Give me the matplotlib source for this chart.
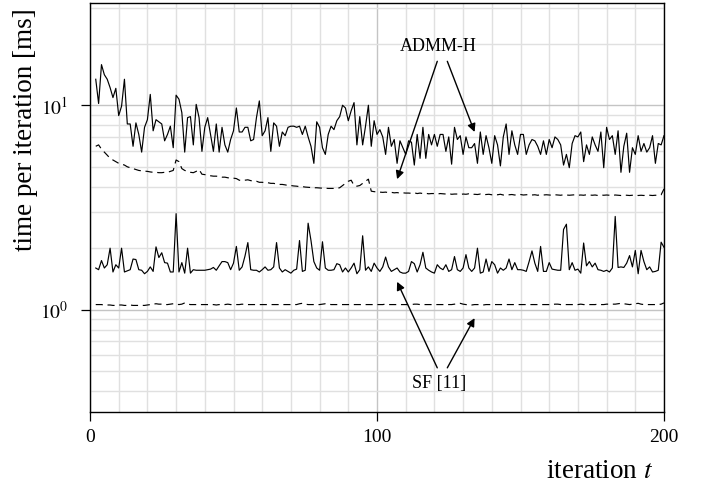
import numpy as np
import matplotlib
matplotlib.use('Agg')
import matplotlib.pyplot as plt

plt.rcParams['font.family'] = ['Liberation Serif', 'DejaVu Serif']
plt.rcParams['mathtext.fontset'] = 'stix'

# iterations 2..200
iterations = list(range(2, 201))

# ADMM-H, solid
admm_solid = [
    13.4, 10.2, 15.8, 14.1, 13.4, 12.2, 10.9, 12.1, 8.9,
    9.9, 13.4, 8.1, 8.1, 6.3, 8.2, 7.2, 5.9, 7.8, 8.5,
    11.3, 7.5, 8.5, 8.3, 8.1, 6.7, 7.2, 7.9, 6.2, 11.2,
    10.7, 9.2, 5.9, 8.7, 8.8, 6.4, 10.1, 8.7, 5.95, 7.8,
    8.7, 7.2, 5.95, 8.1, 5.9, 7.8, 6.4, 5.9, 6.8, 7.5,
    9.7, 7.4, 7.4, 7.8, 7.8, 6.7, 6.8, 8.7, 10.5, 7.1,
    7.5, 8.7, 5.95, 8.2, 7.9, 6.3, 7.4, 7.1, 7.8, 7.9,
    7.9, 7.8, 7.9, 7.2, 7.9, 7.0, 6.3, 5.2, 8.3, 7.8,
    6.2, 5.75, 7.2, 7.9, 7.6, 8.4, 8.8, 10.0, 9.7, 8.4,
    9.4, 10.3, 6.4, 8.8, 6.4, 7.9, 10.0, 6.3, 8.4, 7.2,
    7.6, 7.0, 5.75, 7.8, 6.3, 6.8, 5.2, 6.7, 6.2, 5.75,
    6.7, 6.6, 5.1, 7.2, 5.5, 7.8, 5.5, 7.2, 6.4, 7.2,
    6.3, 7.2, 7.2, 5.95, 7.0, 5.15, 7.8, 6.8, 7.1, 5.75,
    7.0, 6.2, 6.2, 6.5, 5.2, 7.4, 5.75, 7.1, 6.2, 5.2,
    7.1, 6.4, 5.05, 7.0, 8.1, 5.75, 7.5, 6.4, 5.75, 7.2,
    7.2, 5.75, 6.4, 6.8, 6.7, 6.3, 5.75, 6.7, 5.75, 6.8,
    6.2, 7.0, 6.8, 6.4, 5.1, 5.75, 4.95, 6.5, 7.1, 7.0,
    7.4, 5.3, 6.4, 5.75, 7.0, 6.4, 5.95, 7.4, 4.95, 7.8,
    6.8, 7.1, 5.75, 7.5, 4.7, 6.3, 7.3, 4.7, 6.2, 5.75,
    7.1, 5.95, 6.5, 5.9, 6.2, 7.1, 5.2, 6.5, 6.4, 7.1,
]

# ADMM-H, dashed
admm_dashed = [
    6.3, 6.4, 6.1, 5.9, 5.7, 5.5, 5.4, 5.3, 5.2,
    5.15, 5.1, 5.0, 4.95, 4.9, 4.85, 4.8, 4.78, 4.76, 4.75,
    4.72, 4.7, 4.7, 4.68, 4.68, 4.7, 4.7, 4.75, 4.8, 5.4,
    5.3, 4.9, 4.8, 4.75, 4.7, 4.68, 4.75, 4.85, 4.6, 4.58,
    4.55, 4.52, 4.5, 4.5, 4.48, 4.45, 4.45, 4.42, 4.4, 4.4,
    4.38, 4.3, 4.28, 4.3, 4.32, 4.28, 4.25, 4.25, 4.2, 4.2,
    4.18, 4.18, 4.15, 4.15, 4.12, 4.1, 4.1, 4.08, 4.05, 4.05,
    4.03, 4.02, 4.0, 4.0, 3.98, 3.97, 3.96, 3.95, 3.95, 3.94,
    3.93, 3.93, 3.92, 3.92, 3.92, 3.92, 3.95, 4.05, 4.15, 4.25,
    4.3, 4.05, 4.02, 4.05, 4.15, 4.25, 4.35, 3.8, 3.78, 3.77,
    3.76, 3.75, 3.76, 3.74, 3.75, 3.73, 3.74, 3.72, 3.73, 3.72,
    3.72, 3.71, 3.73, 3.70, 3.72, 3.70, 3.71, 3.69, 3.70, 3.70,
    3.68, 3.70, 3.69, 3.68, 3.70, 3.67, 3.68, 3.68, 3.66, 3.68,
    3.67, 3.69, 3.66, 3.67, 3.66, 3.68, 3.65, 3.66, 3.67, 3.65,
    3.66, 3.65, 3.67, 3.64, 3.66, 3.65, 3.66, 3.64, 3.65, 3.66,
    3.64, 3.65, 3.66, 3.64, 3.65, 3.63, 3.65, 3.64, 3.65, 3.64,
    3.63, 3.65, 3.64, 3.63, 3.65, 3.64, 3.63, 3.64, 3.65, 3.63,
    3.64, 3.63, 3.65, 3.64, 3.63, 3.64, 3.62, 3.64, 3.63, 3.64,
    3.63, 3.62, 3.64, 3.63, 3.62, 3.64, 3.63, 3.62, 3.63, 3.64,
    3.62, 3.63, 3.62, 3.64, 3.63, 3.62, 3.63, 3.62, 3.65, 3.90,
]

# SF [11], solid
sf_solid = [
    1.60, 1.57, 1.74, 1.60, 1.66, 2.0, 1.53, 1.66, 1.60,
    2.0, 1.53, 1.55, 1.57, 1.77, 1.76, 1.57, 1.56, 1.50, 1.54,
    1.62, 1.54, 2.03, 1.80, 1.90, 1.70, 1.69, 1.53, 1.53, 2.95,
    1.53, 1.70, 1.51, 2.0, 1.51, 1.57, 1.56, 1.56, 1.56, 1.56,
    1.57, 1.58, 1.61, 1.56, 1.64, 1.72, 1.72, 1.70, 1.57, 1.69,
    2.04, 1.56, 1.62, 1.83, 2.13, 1.57, 1.56, 1.56, 1.53, 1.57,
    1.62, 1.56, 1.57, 1.62, 2.13, 1.60, 1.53, 1.57, 1.54, 1.51,
    1.56, 1.58, 2.18, 1.54, 1.56, 2.65, 2.18, 1.72, 1.60, 1.56,
    2.15, 1.60, 1.56, 1.56, 1.57, 1.68, 1.66, 1.53, 1.60, 1.53,
    1.60, 1.69, 1.50, 1.57, 2.30, 1.56, 1.62, 1.54, 1.69, 1.60,
    1.54, 1.62, 1.81, 1.62, 1.54, 1.57, 1.60, 1.53, 1.51, 1.51,
    1.54, 1.72, 1.68, 1.53, 1.66, 1.91, 1.60, 1.56, 1.53, 1.51,
    1.66, 1.60, 1.57, 1.66, 1.54, 1.57, 1.82, 1.57, 1.54, 1.60,
    1.86, 1.60, 1.54, 1.60, 2.0, 1.51, 1.53, 1.77, 1.54, 1.72,
    1.66, 1.51, 1.60, 1.56, 1.60, 1.77, 1.57, 1.70, 1.57, 1.57,
    1.56, 1.54, 1.72, 1.94, 1.69, 1.54, 2.04, 1.54, 1.54, 1.70,
    1.58, 1.57, 1.56, 1.56, 2.47, 2.62, 1.57, 1.70, 1.56, 1.58,
    1.51, 2.12, 1.64, 1.72, 1.62, 1.69, 1.57, 1.56, 1.54, 1.56,
    1.53, 1.60, 2.86, 1.61, 1.62, 1.61, 1.69, 1.84, 1.62, 1.95,
    1.50, 1.95, 1.72, 1.57, 1.62, 1.53, 1.54, 1.56, 2.14, 2.02,
]

# SF [11], dashed
sf_dashed = [
    1.06, 1.06, 1.06, 1.055, 1.055, 1.055, 1.05, 1.05, 1.055,
    1.055, 1.05, 1.05, 1.055, 1.05, 1.05, 1.05, 1.05, 1.05, 1.055,
    1.06, 1.065, 1.07, 1.065, 1.065, 1.06, 1.06, 1.065, 1.07, 1.065,
    1.06, 1.065, 1.08, 1.065, 1.06, 1.06, 1.06, 1.06, 1.06, 1.06,
    1.06, 1.06, 1.06, 1.055, 1.06, 1.06, 1.06, 1.065, 1.06, 1.06,
    1.06, 1.06, 1.065, 1.06, 1.06, 1.06, 1.06, 1.06, 1.06, 1.06,
    1.06, 1.06, 1.06, 1.06, 1.06, 1.06, 1.06, 1.06, 1.06, 1.06,
    1.06, 1.06, 1.07, 1.075, 1.065, 1.06, 1.06, 1.06, 1.06, 1.06,
    1.065, 1.07, 1.065, 1.06, 1.06, 1.06, 1.06, 1.06, 1.06, 1.06,
    1.06, 1.06, 1.06, 1.06, 1.06, 1.06, 1.06, 1.06, 1.06, 1.06,
    1.06, 1.06, 1.065, 1.06, 1.06, 1.06, 1.06, 1.06, 1.06, 1.06,
    1.06, 1.06, 1.065, 1.065, 1.06, 1.06, 1.06, 1.06, 1.06, 1.06,
    1.06, 1.06, 1.06, 1.06, 1.06, 1.06, 1.065, 1.07, 1.075, 1.065,
    1.06, 1.055, 1.055, 1.06, 1.06, 1.06, 1.055, 1.06, 1.06, 1.06,
    1.06, 1.06, 1.06, 1.06, 1.06, 1.06, 1.06, 1.06, 1.06, 1.06,
    1.06, 1.06, 1.06, 1.06, 1.06, 1.06, 1.06, 1.06, 1.06, 1.06,
    1.06, 1.065, 1.065, 1.06, 1.06, 1.06, 1.06, 1.06, 1.06, 1.06,
    1.065, 1.06, 1.06, 1.06, 1.06, 1.06, 1.065, 1.06, 1.06, 1.065,
    1.065, 1.065, 1.065, 1.07, 1.075, 1.07, 1.065, 1.06, 1.065, 1.07,
    1.075, 1.065, 1.06, 1.06, 1.06, 1.06, 1.06, 1.06, 1.065, 1.08,
]

fig = plt.figure(figsize=(7.02, 4.86), dpi=100)
ax = fig.add_axes([90 / 702, 1 - 412 / 486, 574 / 702, 409 / 486])

dash = (0, (6, 4))
ax.plot(iterations, admm_solid, color='black', lw=0.85)
ax.plot(iterations, admm_dashed, color='black', lw=0.85, linestyle=dash)
ax.plot(iterations, sf_solid, color='black', lw=0.85)
ax.plot(iterations, sf_dashed, color='black', lw=0.85, linestyle=dash)

ax.set_yscale('log')
ax.set_xlim(0, 200)
ax.set_ylim(10 ** -0.5, 10 ** 1.5)

ax.set_xticks([0, 100, 200])
ax.set_xticks(range(10, 200, 10), minor=True)
ax.set_yticks([1, 10])
ax.set_yticklabels(['$10^0$', '$10^1$'])
ax.grid(True, which='major', color='#c4c4c4', lw=1.0)
ax.grid(True, which='minor', color='#e0e0e0', lw=1.0)
ax.set_axisbelow(True)
ax.tick_params(which='major', direction='out', length=6.5, width=0.9, labelsize=14)
ax.tick_params(axis='x', pad=6)
ax.tick_params(axis='y', pad=9)
ax.tick_params(which='minor', length=0)
for s in ax.spines.values():
    s.set_linewidth(1.0)

ax.set_xlabel('iteration $t$', fontsize=19.5, loc='right')
ax.xaxis.set_label_coords((653 - 90) / 574, -0.115)
ax.set_ylabel('time per iteration [ms]', fontsize=19.5)
ax.yaxis.set_label_coords(-0.09, 0.69)

arrow = dict(arrowstyle='-|>', color='black', lw=1.0, mutation_scale=12, shrinkA=0, shrinkB=0)
ax.text(121.5, 19.3, 'ADMM-H', fontsize=13, ha='center', va='center')
ax.annotate('', xy=(107, 4.35), xytext=(121, 16.4), arrowprops=arrow)
ax.annotate('', xy=(134, 7.4), xytext=(124.5, 16.4), arrowprops=arrow)
ax.text(121.5, 0.438, 'SF [11]', fontsize=13, ha='center', va='center')
ax.annotate('', xy=(107, 1.37), xytext=(121, 0.52), arrowprops=arrow)
ax.annotate('', xy=(134, 0.91), xytext=(124.5, 0.52), arrowprops=arrow)

fig.savefig('out.png', dpi=100)
